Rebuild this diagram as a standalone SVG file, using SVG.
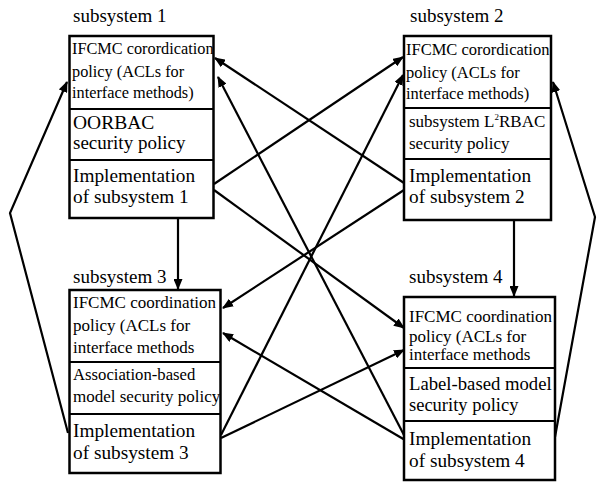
<svg xmlns="http://www.w3.org/2000/svg" width="597" height="483" viewBox="0 0 597 483" font-family="'Liberation Serif', 'DejaVu Serif', serif">
<style>
text{font-family:'Liberation Serif','DejaVu Serif',serif;fill:#000}
.box{fill:#fff;stroke:#000;stroke-width:2.5}
.div{stroke:#000;stroke-width:2}
.c{fill:none;stroke:#000;stroke-width:2.2}
.ttl{font-size:19px}
.s3{font-size:19.3px}
</style>
<defs>
<marker id="ah" markerUnits="userSpaceOnUse" markerWidth="11" markerHeight="9" refX="10" refY="4.5" orient="auto">
<path d="M0,0 L11,4.5 L0,9 z" fill="#000"/>
</marker>
</defs>
<rect width="597" height="483" fill="#fff"/>
<g id="connectors">
<line class="c" x1="178" y1="218" x2="178" y2="289" marker-end="url(#ah)"/>
<line class="c" x1="514" y1="220" x2="514" y2="296" marker-end="url(#ah)"/>
<polyline class="c" points="68,433 10,213 67,82" marker-end="url(#ah)"/>
<polyline class="c" points="555,437 595,217 553,82" marker-end="url(#ah)"/>
<line class="c" x1="214" y1="184" x2="403" y2="57" marker-end="url(#ah)"/>
<line class="c" x1="214" y1="190" x2="404" y2="328" marker-end="url(#ah)"/>
<line class="c" x1="404" y1="183" x2="215" y2="58" marker-end="url(#ah)"/>
<line class="c" x1="405" y1="437" x2="218" y2="77" marker-end="url(#ah)"/>
<line class="c" x1="221" y1="435" x2="403" y2="75" marker-end="url(#ah)"/>
<line class="c" x1="404" y1="190" x2="223" y2="308" marker-end="url(#ah)"/>
<line class="c" x1="405" y1="440" x2="223" y2="333" marker-end="url(#ah)"/>
<line class="c" x1="221" y1="438" x2="404" y2="350" marker-end="url(#ah)"/>
</g>
<g id="subsystem1" font-family="'Liberation Serif', serif">
<text class="ttl" x="73" y="22">subsystem 1</text>
<rect class="box" x="69.5" y="36" width="144" height="182"/>
<line class="div" x1="69.5" y1="109" x2="213.5" y2="109"/>
<line class="div" x1="69.5" y1="160" x2="213.5" y2="160"/>
<text font-size="16.3" x="72" y="54">IFCMC corordication</text>
<text font-size="16.3" x="72" y="77">policy (ACLs for</text>
<text font-size="16.3" x="72" y="98">interface methods)</text>
<text font-size="19.5" x="73" y="129">OORBAC</text>
<text font-size="19" x="73" y="149">security policy</text>
<text class="s3" x="73" y="182">Implementation</text>
<text class="s3" x="73" y="203">of subsystem 1</text>
</g>
<g id="subsystem2" font-family="'Liberation Serif', serif">
<text class="ttl" x="410" y="22">subsystem 2</text>
<rect class="box" x="404" y="36" width="147" height="184"/>
<line class="div" x1="404" y1="108" x2="551" y2="108"/>
<line class="div" x1="404" y1="159" x2="551" y2="159"/>
<text font-size="16.5" x="406" y="55">IFCMC corordication</text>
<text font-size="16.5" x="406" y="78">policy (ACLs for</text>
<text font-size="16.5" x="406" y="99">interface methods)</text>
<text font-size="17" x="409" y="127">subsystem L<tspan font-size="9" dy="-7">2</tspan><tspan dy="7">RBAC</tspan></text>
<text font-size="17" x="409" y="149">security policy</text>
<text class="s3" x="409" y="182">Implementation</text>
<text class="s3" x="409" y="203">of subsystem 2</text>
</g>
<g id="subsystem3" font-family="'Liberation Serif', serif">
<text class="ttl" x="73" y="283">subsystem 3</text>
<rect class="box" x="69.5" y="290" width="151" height="183"/>
<line class="div" x1="69.5" y1="362" x2="220.5" y2="362"/>
<line class="div" x1="69.5" y1="414" x2="220.5" y2="414"/>
<text font-size="17" x="73" y="308">IFCMC coordination</text>
<text font-size="17" x="73" y="331">policy (ACLs for</text>
<text font-size="17" x="73" y="353">interface methods</text>
<text font-size="16.7" x="73" y="380">Association-based</text>
<text font-size="17" x="73" y="402">model security policy</text>
<text class="s3" x="73" y="437">Implementation</text>
<text class="s3" x="73" y="459">of subsystem 3</text>
</g>
<g id="subsystem4" font-family="'Liberation Serif', serif">
<text class="ttl" x="409" y="283">subsystem 4</text>
<rect class="box" x="404" y="297" width="151" height="183"/>
<line class="div" x1="404" y1="368" x2="555" y2="368"/>
<line class="div" x1="404" y1="421" x2="555" y2="421"/>
<text font-size="17" x="409" y="322">IFCMC coordination</text>
<text font-size="17" x="409" y="342">policy (ACLs for</text>
<text font-size="17" x="409" y="360">interface methods</text>
<text font-size="18.7" x="409" y="390">Label-based model</text>
<text font-size="18.5" x="409" y="411">security policy</text>
<text class="s3" x="409" y="445">Implementation</text>
<text class="s3" x="409" y="467">of subsystem 4</text>
</g>
</svg>
